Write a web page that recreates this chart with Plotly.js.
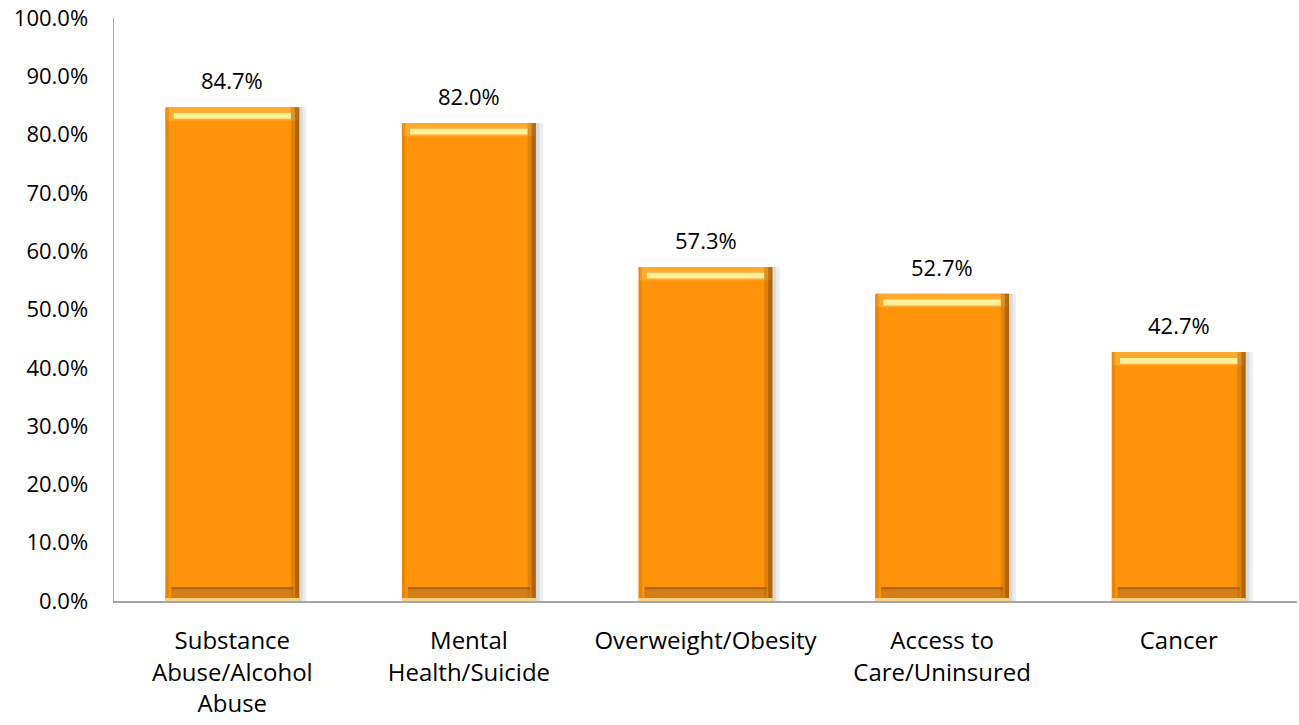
<!DOCTYPE html>
<html><head><meta charset="utf-8">
<script src="https://cdn.plot.ly/plotly-3.0.1.min.js"></script>
<style>html,body{margin:0;padding:0;background:#fff;}#chart{width:1299px;height:725px;}</style>
</head><body><div id="chart"></div>
<script>
var categories = ["Substance<br>Abuse/Alcohol<br>Abuse", "Mental<br>Health/Suicide", "Overweight/Obesity", "Access to<br>Care/Uninsured", "Cancer"];
var values = [84.7, 82.0, 57.3, 52.7, 42.7];
var labels = values.map(function(v){return v.toFixed(1)+"%";});
var tickVals = [0,10,20,30,40,50,60,70,80,90,100];
var tickText = tickVals.map(function(v){return v.toFixed(1)+"%";});

var fam = "Open Sans, Segoe UI, sans-serif";
var W = 0.566, H = W/2;
function consts(c){return values.map(function(){return c;});}
function strip(y, base, width, offset, color){
  var t = {type:"bar", x:categories, y:y, base:base, width:width, marker:{color:color, line:{width:0}}, hoverinfo:"none"};
  if (offset !== null) t.offset = offset;
  return t;
}
var traces = [
  strip(values, consts(0), 0.03, H, "rgba(0,0,0,0.07)"),
  strip(values, consts(0), 0.015, H, "rgba(0,0,0,0.08)"),
  strip(values, consts(0), W, null, "#FF940A"),
  strip(consts(2.3), values.map(function(v){return v-2.3;}), W-0.01, null, "#FFAA2E"),
  strip(consts(1.0), values.map(function(v){return v-2.0;}), W-0.07, null, "#FFF09A"),
  strip(values, consts(0), 0.035, H-0.035, "rgba(130,75,10,0.25)"),
  strip(values, consts(0), 0.018, H-0.018, "rgba(90,50,5,0.35)"),
  strip(values, consts(0), 0.015, -H, "rgba(170,90,0,0.25)"),
  strip(consts(1.9), consts(0.5), W-0.05, null, "rgba(160,100,35,0.45)"),
  strip(consts(0.35), consts(2.0), W-0.05, null, "rgba(120,70,20,0.45)"),
  strip(consts(0.5), consts(0), W, null, "#FFD28A")
];
var annotations = categories.map(function(c, i){
  return {x:c, y:values[i], text:labels[i], showarrow:false, xanchor:"center", yanchor:"bottom", yshift:10,
          font:{family:fam, size:22, color:"#000"}};
});
var layout = {
  width:1299, height:725, margin:{l:114, r:2, t:18, b:124},
  paper_bgcolor:"#fff", plot_bgcolor:"#fff", showlegend:false, barmode:"overlay",
  font:{family:fam, size:22, color:"#000"},
  annotations: annotations,
  xaxis:{showline:true, linecolor:"#A6A6A6", linewidth:1.5, tickfont:{family:fam, size:24, color:"#000"},
         ticks:"", showgrid:false, zeroline:false, ticklabelstandoff:18},
  yaxis:{range:[0,100], tickvals:tickVals, ticktext:tickText, showline:true, linecolor:"#A6A6A6", linewidth:1.5,
         showgrid:false, zeroline:false, ticks:"", tickfont:{family:fam, size:22, color:"#000"}, ticklabelstandoff:20}
};
Plotly.newPlot("chart", traces, layout, {displayModeBar:false, staticPlot:true});
</script></body></html>
